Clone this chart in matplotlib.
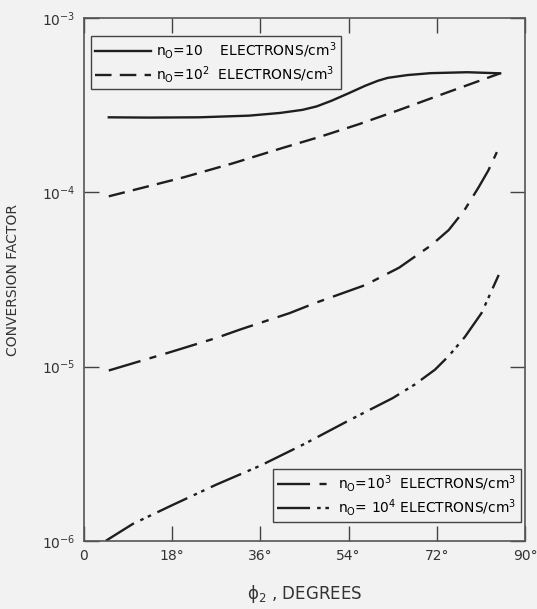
import numpy as np
import matplotlib
matplotlib.use('Agg')
import matplotlib.pyplot as plt

# Data (phi_2 in degrees, conversion factor)
deg_10 = [5.1, 13.4, 23.5, 33.7, 40.0, 44.6, 47.5, 50.5, 53.9, 57.4, 60.0, 62.0, 66.0,
          70.7, 78.2, 84.9]
cf_10 = [2.70e-4, 2.69e-4, 2.70e-4, 2.76e-4, 2.86e-4, 2.98e-4, 3.12e-4, 3.36e-4,
         3.70e-4, 4.10e-4, 4.38e-4, 4.55e-4, 4.72e-4, 4.84e-4, 4.9e-4, 4.83e-4]

deg_100 = [5.1, 20.3, 30.4, 40.5, 48.0, 56.0, 64.1, 74.2, 84.9]
cf_100 = [9.5e-5, 1.22e-4, 1.47e-4, 1.80e-4, 2.08e-4, 2.46e-4, 2.96e-4, 3.76e-4, 4.83e-4]

deg_1000 = [5.1, 17.6, 27.0, 31.8, 42.0, 47.2, 57.4, 64.3, 70.9, 74.4, 77.6, 80.5, 82.5, 84.7]
cf_1000 = [9.5e-6, 1.21e-5, 1.46e-5, 1.63e-5, 2.03e-5, 2.32e-5, 2.94e-5, 3.70e-5,
           4.99e-5, 6.08e-5, 7.9e-5, 1.07e-4, 1.34e-4, 1.82e-4]

deg_10000 = [4.5, 10.0, 18.0, 27.0, 36.0, 45.0, 54.0, 63.0, 67.5, 71.6, 74.4, 77.7, 81.1, 84.6]
cf_10000 = [1.0e-6, 1.25e-6, 1.6e-6, 2.1e-6, 2.7e-6, 3.6e-6, 4.9e-6, 6.6e-6, 7.9e-6,
            9.6e-6, 1.15e-5, 1.48e-5, 2.03e-5, 3.36e-5]

xticks = [0, 18, 36, 54, 72, 90]
xticklabels = ['0', '18°', '36°', '54°', '72°', '90°']
yticks = [1e-6, 1e-5, 1e-4, 1e-3]
yticklabels = [r'$10^{-6}$', r'$10^{-5}$', r'$10^{-4}$', r'$10^{-3}$']

bg = '#f2f2f2'
ink = '#1e1e1e'
plt.rcParams['mathtext.default'] = 'regular'

fig = plt.figure(figsize=(5.37, 6.09), dpi=100, facecolor=bg)
ax = fig.add_axes([0.156, 0.112, 0.822, 0.858], facecolor=bg)

l1, = ax.plot(deg_10, cf_10, color=ink, lw=1.7, ls='-')
l2, = ax.plot(deg_100, cf_100, color=ink, lw=1.7, ls=(0, (7, 3.5)))
l3, = ax.plot(deg_1000, cf_1000, color=ink, lw=1.7, ls=(0, (14, 4, 3, 4)))
l4, = ax.plot(deg_10000, cf_10000, color=ink, lw=1.7, ls=(0, (14, 3, 1.5, 2, 1.5, 3)))

ax.set_yscale('log')
ax.set_xlim(0, 90)
ax.set_ylim(1e-6, 1e-3)
ax.set_xticks(xticks)
ax.set_xticklabels(xticklabels)
ax.set_yticks(yticks)
ax.set_yticklabels(yticklabels)
ax.minorticks_off()
ax.tick_params(direction='in', length=11, width=1, color='#444444',
               top=True, right=True, labelsize=10, labelcolor='#333333', pad=6)
for s in ax.spines.values():
    s.set_color('#555555')
    s.set_linewidth(1.2)

ax.set_ylabel('CONVERSION FACTOR', fontsize=10, color='#333333', labelpad=16)
ax.set_xlabel(r'$\phi_2$ , DEGREES', fontsize=12, color='#333333', labelpad=14)

leg_kw = dict(frameon=True, fancybox=False, edgecolor='#444444', facecolor=bg,
              framealpha=1, fontsize=10, handlelength=4.0, borderpad=0.3,
              labelspacing=0.2, handletextpad=0.4, borderaxespad=0)
leg1 = ax.legend([l1, l2], [r'n$_O$=10    ELECTRONS/cm$^3$', r'n$_O$=10$^2$  ELECTRONS/cm$^3$'],
                 loc='upper left', bbox_to_anchor=(0.016, 0.966), **leg_kw)
leg1.get_frame().set_linewidth(1.0)
ax.add_artist(leg1)
leg2 = ax.legend([l3, l4], [r'n$_O$=10$^3$  ELECTRONS/cm$^3$', r'n$_O$= 10$^4$ ELECTRONS/cm$^3$'],
                 loc='lower right', bbox_to_anchor=(0.99, 0.036), **leg_kw)
leg2.get_frame().set_linewidth(1.0)

fig.savefig('out.png', dpi=100, facecolor=bg)
